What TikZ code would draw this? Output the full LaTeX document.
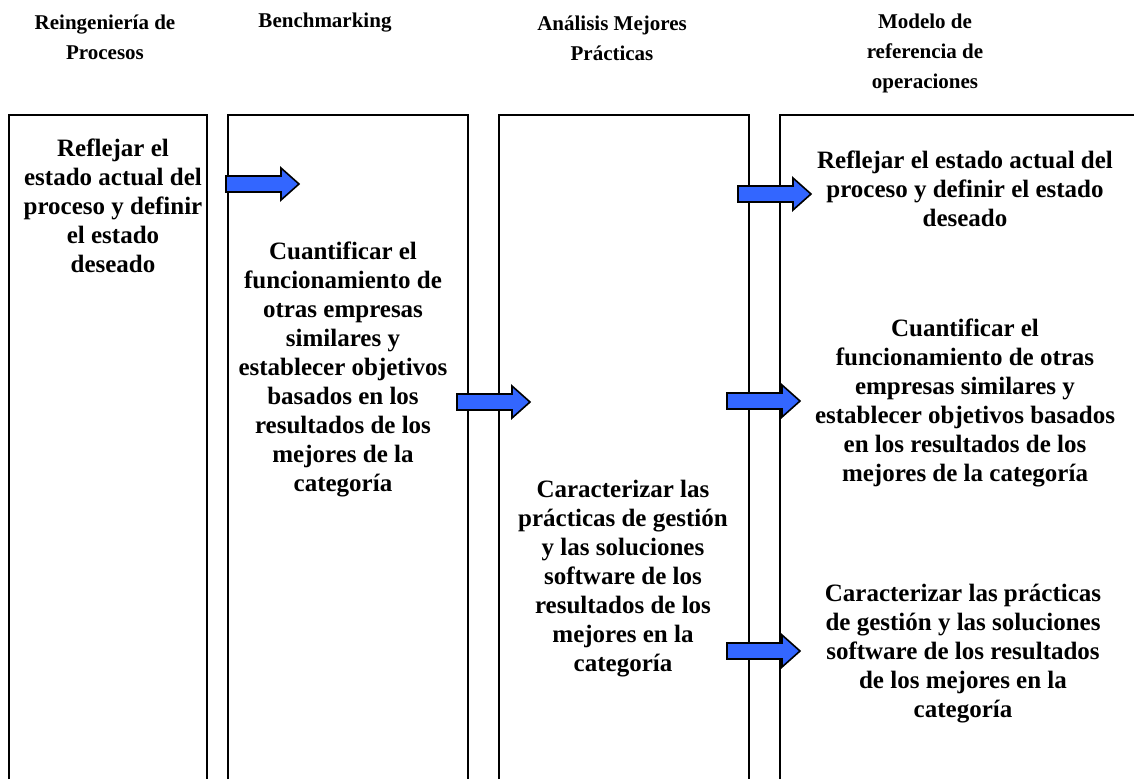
\documentclass[tikz,border=0pt]{standalone}
\usepackage{fontspec}
\setmainfont{Liberation Serif}
\begin{document}
\begin{tikzpicture}[x=1pt,y=-1pt,
  colbox/.style={draw=black,line width=1.8pt},
  head/.style={font=\fontsize{21}{30}\selectfont\bfseries,align=center,inner sep=0pt},
  body/.style={font=\fontsize{25}{29}\selectfont\bfseries,align=center,inner sep=0pt},
  arrowstyle/.style={draw=black,fill=arrowblue,line width=1.6pt,line join=miter},
  blockarrow/.pic={\path[arrowstyle] (0,-8) -- (55,-8) -- (55,-16) -- (73,0) -- (55,16) -- (55,8) -- (0,8) -- cycle;}
]
\definecolor{arrowblue}{RGB}{51,102,255}
\useasboundingbox (0,0) rectangle (1134,779);

% column frames, open at the bottom
\draw[colbox] (9,779) -- (9,115) -- (207,115) -- (207,779);
\draw[colbox] (228,779) -- (228,115) -- (468,115) -- (468,779);
\draw[colbox] (499,779) -- (499,115) -- (749,115) -- (749,779);
\draw[colbox] (780,779) -- (780,115) -- (1134,115);

% column headings
\node[head] (h1) at (105,37) {Reingeniería de\\Procesos};
\node[head] (h2) at (325,23) {Benchmarking};
\node[head] (h3) at (612,38) {Análisis Mejores\\Prácticas};
\node[head] (h4) at (925,53) {Modelo de\\referencia de\\operaciones};

% column contents
\node[body] (t1) at (113,206) {Reflejar el\\estado actual del\\proceso y definir\\el estado\\deseado};
\node[body] (t2) at (343,369) {Cuantificar el\\funcionamiento de\\otras empresas\\similares y\\establecer objetivos\\basados en los\\resultados de los\\mejores de la\\categoría};
\node[body] (t3) at (623,579) {Caracterizar las\\prácticas de gestión\\y las soluciones\\software de los\\resultados de los\\mejores en la\\categoría};
\node[body] (r1) at (965,189) {Reflejar el estado actual del\\proceso y definir el estado\\deseado};
\node[body] (r2) at (965,403) {Cuantificar el\\funcionamiento de otras\\empresas similares y\\establecer objetivos basados\\en los resultados de los\\mejores de la categoría};
\node[body] (r3) at (963,654) {Caracterizar las prácticas\\de gestión y las soluciones\\software de los resultados\\de los mejores en la\\categoría};

% block arrows
\pic at (226,184) {blockarrow};
\pic at (457,402) {blockarrow};
\pic at (738,194) {blockarrow};
\pic at (727,401) {blockarrow};
\pic at (727,651) {blockarrow};
\end{tikzpicture}
\end{document}
